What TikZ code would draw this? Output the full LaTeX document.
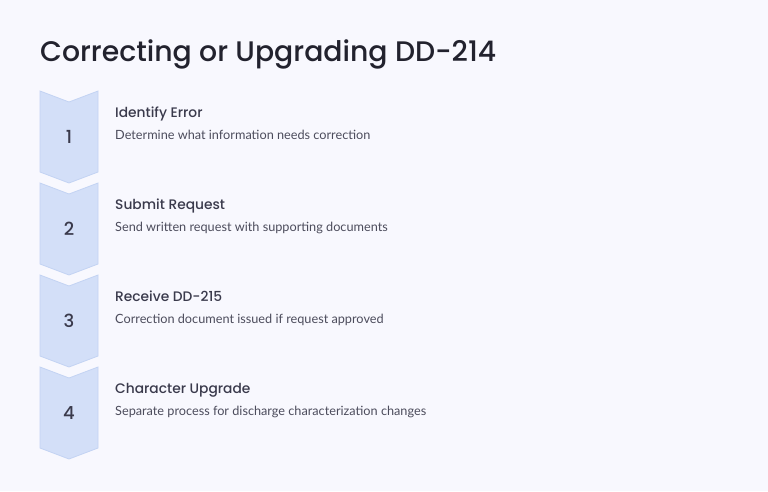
\documentclass[tikz,border=0pt]{standalone}
\usepackage{fontspec}
\setmainfont{Lato}
\newfontfamily\headfont{Poppins Medium}
\usetikzlibrary{positioning}
\definecolor{bgcol}{HTML}{F8F8FE}
\definecolor{chevfill}{HTML}{D3DFF8}
\definecolor{chevdraw}{HTML}{C3D3F3}
\definecolor{titlecol}{HTML}{22222E}
\definecolor{headcol}{HTML}{3A3A4C}
\definecolor{desccol}{HTML}{4C4C5C}
\tikzset{
	num node/.style={anchor=base,inner sep=0pt,font=\headfont\fontsize{18}{18}\selectfont,text=headcol},
	head node/.style={anchor=base west,inner sep=0pt,font=\headfont\fontsize{13.8}{13.8}\selectfont,text=headcol},
	desc node/.style={anchor=base west,inner sep=0pt,font=\fontsize{12.7}{12.7}\selectfont,text=desccol},
	chevron/.style={fill=chevfill,draw=chevdraw,line width=0.8pt}
}

\begin{document}
\begin{tikzpicture}[x=1pt,y=-1pt]
	\fill[bgcol] (0,0) rectangle (768,491);
	\useasboundingbox (0,0) rectangle (768,491);
	\node [anchor=base west,inner sep=0pt,font=\headfont\fontsize{28.3}{28.3}\selectfont,text=titlecol] (title) at (40,61) {Correcting or Upgrading DD-214};
	\foreach \n/\hd/\ds [count=\i from 0] in {
		1/Identify Error/Determine what information needs correction,
		2/Submit Request/Send written request with supporting documents,
		3/Receive DD-215/Correction document issued if request approved,
		4/Character Upgrade/Separate process for discharge characterization changes}{
		\pgfmathsetmacro\yt{91+92*\i}
		\draw [chevron] (40,\yt) -- (69,\yt+11) -- (98,\yt) -- (98,\yt+81) -- (69,\yt+92) -- (40,\yt+81) -- cycle;
		\node [num node] (num\n) at (69,\yt+52) {\n};
		\node [head node] (head\n) at (115,\yt+26) {\hd};
		\node [desc node] (desc\n) at (115,\yt+48) {\ds};
	}
\end{tikzpicture}
\end{document}
